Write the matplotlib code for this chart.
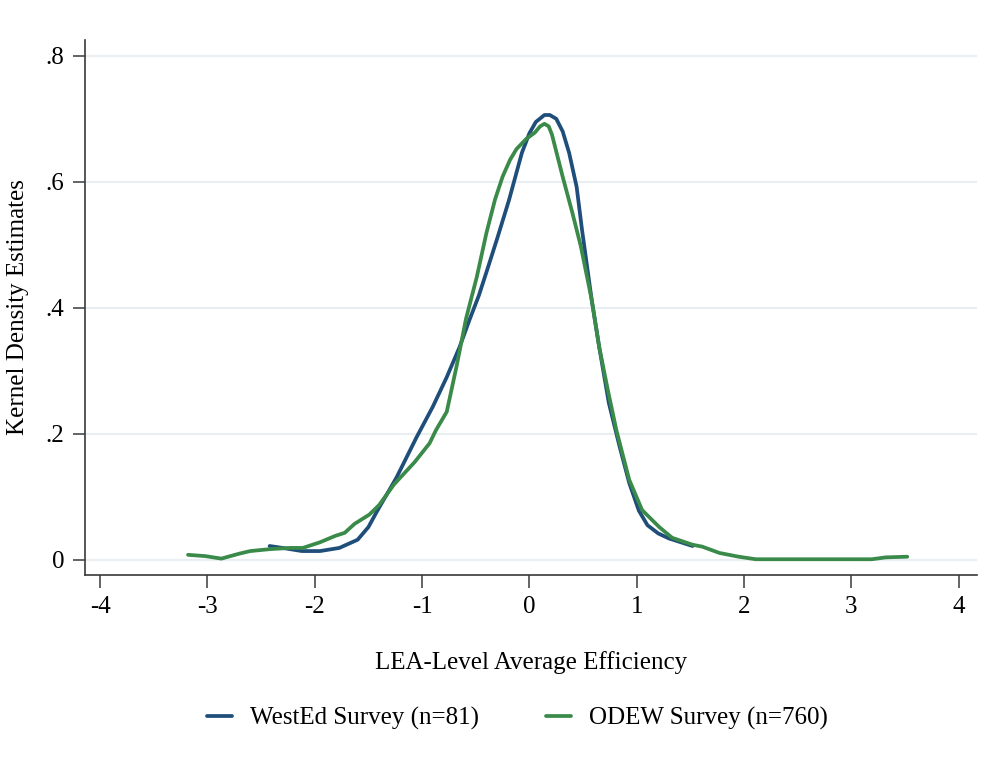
import matplotlib.pyplot as plt

plt.rcParams['font.family'] = ['Liberation Serif', 'DejaVu Serif']

# WestEd survey kernel density
wested_x = [-2.42, -2.30, -2.12, -1.95, -1.77, -1.60, -1.50, -1.42, -1.24, -1.05,
            -0.90, -0.77, -0.65, -0.56, -0.47, -0.39, -0.30, -0.19, -0.07, 0.00,
            0.06, 0.14, 0.19, 0.25, 0.31, 0.37, 0.44, 0.49, 0.58, 0.65,
            0.74, 0.84, 0.93, 1.02, 1.10, 1.20, 1.30, 1.52]
wested_y = [0.022, 0.019, 0.014, 0.014, 0.019, 0.032, 0.052, 0.077, 0.130, 0.195,
            0.243, 0.290, 0.338, 0.380, 0.420, 0.462, 0.510, 0.571, 0.646, 0.677,
            0.695, 0.706, 0.706, 0.700, 0.680, 0.646, 0.592, 0.524, 0.413, 0.338,
            0.249, 0.180, 0.122, 0.078, 0.055, 0.042, 0.034, 0.022]

# ODEW survey kernel density
odew_x = [-3.18, -3.02, -2.87, -2.70, -2.60, -2.42, -2.23, -2.11, -1.95, -1.81,
          -1.72, -1.63, -1.49, -1.40, -1.26, -1.07, -0.93, -0.87, -0.77, -0.68,
          -0.59, -0.49, -0.40, -0.32, -0.25, -0.18, -0.12, -0.03, 0.05, 0.10,
          0.14, 0.18, 0.21, 0.31, 0.40, 0.48, 0.58, 0.65, 0.73, 0.81,
          0.93, 1.05, 1.21, 1.33, 1.52, 1.61, 1.77, 1.95, 2.11, 2.50,
          3.00, 3.19, 3.32, 3.52]
odew_y = [0.008, 0.006, 0.002, 0.010, 0.014, 0.017, 0.019, 0.019, 0.028, 0.038,
          0.043, 0.057, 0.072, 0.087, 0.120, 0.155, 0.185, 0.206, 0.235, 0.306,
          0.383, 0.449, 0.519, 0.572, 0.608, 0.635, 0.652, 0.668, 0.678, 0.688,
          0.692, 0.688, 0.675, 0.608, 0.551, 0.497, 0.413, 0.338, 0.270, 0.206,
          0.127, 0.079, 0.052, 0.035, 0.024, 0.021, 0.011, 0.005, 0.001, 0.001,
          0.001, 0.001, 0.004, 0.005]

xticks = [-4, -3, -2, -1, 0, 1, 2, 3, 4]
yticks = [0, 0.2, 0.4, 0.6, 0.8]
ytick_labels = ['0', '.2', '.4', '.6', '.8']

fig = plt.figure(figsize=(9.86, 7.68), dpi=100)
ax = fig.add_axes([0.0862, 0.2513, 0.9047, 0.6966])

ax.plot(wested_x, wested_y, color='#1f4e7a', lw=2.7, solid_joinstyle='round',
        solid_capstyle='round', label='WestEd Survey (n=81)')
ax.plot(odew_x, odew_y, color='#3a8a4a', lw=2.7, solid_joinstyle='round',
        solid_capstyle='round', label='ODEW Survey (n=760)')

ax.set_xlim(-4.14, 4.17)
ax.set_ylim(-0.024, 0.825)
ax.set_xticks(xticks)
ax.set_xticklabels([str(t) for t in xticks])
ax.set_yticks(yticks)
ax.set_yticklabels(ytick_labels)
ax.yaxis.grid(True, color='#e9eef2', lw=1.5)
ax.set_axisbelow(True)

for s in ['top', 'right']:
    ax.spines[s].set_visible(False)
for s in ['left', 'bottom']:
    ax.spines[s].set_color('#3a3a3a')
    ax.spines[s].set_linewidth(1.2)

ax.tick_params(axis='both', labelsize=18, length=9, width=1.1, color='#3a3a3a', pad=6)
ax.set_xlabel('LEA-Level Average Efficiency', fontsize=18, labelpad=24)
ax.set_ylabel('Kernel Density Estimates', fontsize=18, labelpad=12)

fig.legend(loc='center', bbox_to_anchor=(0.525, 0.064), ncol=2, frameon=False,
           fontsize=18, handlelength=1.0, handletextpad=0.7, columnspacing=2.7)

fig.savefig('out.png', dpi=100)
